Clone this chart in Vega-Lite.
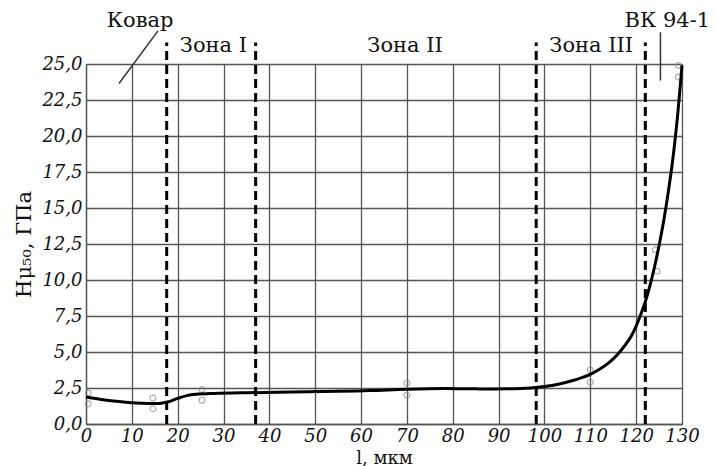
{
  "$schema": "https://vega.github.io/schema/vega-lite/v6.json",
  "width": 596,
  "height": 360,
  "autosize": {"type": "none"},
  "padding": {"left": 86, "top": 64, "right": 34, "bottom": 42},
  "background": "white",
  "config": {
    "view": {"stroke": null},
    "font": "DejaVu Serif"
  },
  "datasets": {
    "curve": [
      {"l": 0, "h": 1.87}, {"l": 3, "h": 1.72}, {"l": 6, "h": 1.6}, {"l": 10, "h": 1.48},
      {"l": 14, "h": 1.42}, {"l": 16, "h": 1.43}, {"l": 18, "h": 1.55}, {"l": 20, "h": 1.78},
      {"l": 22, "h": 1.97}, {"l": 24, "h": 2.06}, {"l": 28, "h": 2.12}, {"l": 35, "h": 2.17},
      {"l": 45, "h": 2.22}, {"l": 55, "h": 2.27}, {"l": 62, "h": 2.32}, {"l": 70, "h": 2.42},
      {"l": 78, "h": 2.47}, {"l": 85, "h": 2.44}, {"l": 92, "h": 2.44}, {"l": 97, "h": 2.5},
      {"l": 100, "h": 2.6}, {"l": 103, "h": 2.76}, {"l": 106, "h": 3.0}, {"l": 108, "h": 3.2},
      {"l": 110, "h": 3.45}, {"l": 112, "h": 3.8}, {"l": 114, "h": 4.25}, {"l": 116, "h": 4.85},
      {"l": 118, "h": 5.65}, {"l": 119, "h": 6.15}, {"l": 120, "h": 6.8}, {"l": 121, "h": 7.6},
      {"l": 122, "h": 8.5}, {"l": 123, "h": 9.6}, {"l": 124, "h": 10.9}, {"l": 125, "h": 12.4},
      {"l": 126, "h": 14.1}, {"l": 127, "h": 16.1}, {"l": 128, "h": 18.4}, {"l": 129, "h": 21.3},
      {"l": 130, "h": 24.9}
    ],
    "points": [
      {"l": 0.5, "h": 2.15}, {"l": 0.5, "h": 1.4},
      {"l": 14.6, "h": 1.8}, {"l": 14.6, "h": 1.05},
      {"l": 25.3, "h": 2.4}, {"l": 25.3, "h": 1.65},
      {"l": 70, "h": 2.85}, {"l": 70, "h": 2.0},
      {"l": 110, "h": 3.75}, {"l": 110, "h": 2.9},
      {"l": 124.2, "h": 12.1}, {"l": 124.6, "h": 10.6},
      {"l": 129.2, "h": 24.9}, {"l": 129.2, "h": 24.1}
    ],
    "zones": [
      {"l": 17.6, "h0": 0, "h1": 26.5}, {"l": 37.0, "h0": 0, "h1": 26.5},
      {"l": 98.2, "h0": 0, "h1": 26.5}, {"l": 122.0, "h0": 0, "h1": 26.5}
    ],
    "zoneLabels": [
      {"l": 27.8, "h": 25.8, "label": "Зона I"},
      {"l": 69.6, "h": 25.8, "label": "Зона II"},
      {"l": 110.2, "h": 25.8, "label": "Зона III"}
    ],
    "notes": [
      {"label": "Ковар", "l": 11.8, "h": 27.55, "x1": 15.7, "y1": 27.3, "x2": 7.2, "y2": 23.65},
      {"label": "ВК 94-1", "l": 126.8, "h": 27.55, "x1": 125.3, "y1": 27.2, "x2": 125.3, "y2": 23.85}
    ]
  },
  "encoding": {
    "x": {
      "field": "l", "type": "quantitative",
      "scale": {"domain": [0, 130], "nice": false, "zero": false},
      "axis": {
        "values": [0, 10, 20, 30, 40, 50, 60, 70, 80, 90, 100, 110, 120, 130],
        "grid": true, "gridColor": "#555", "gridWidth": 1.3, "gridOpacity": 1,
        "domainColor": "#555", "domainWidth": 1.3,
        "ticks": false, "labelPadding": 3,
        "labelFont": "DejaVu Serif", "labelFontStyle": "italic", "labelFontSize": 18, "labelColor": "#111",
        "labelFlush": false, "labelOverlap": false,
        "title": "l, мкм", "titleFont": "DejaVu Serif", "titleFontSize": 18, "titleFontWeight": "normal",
        "titleColor": "#111", "titleBaseline": "alphabetic", "titleY": 39
      }
    },
    "y": {
      "field": "h", "type": "quantitative",
      "scale": {"domain": [0, 25], "nice": false, "zero": false},
      "axis": {
        "values": [0, 2.5, 5, 7.5, 10, 12.5, 15, 17.5, 20, 22.5, 25],
        "labelExpr": "replace(format(datum.value, '.1f'), '.', ',')",
        "grid": true, "gridColor": "#555", "gridWidth": 1.3, "gridOpacity": 1,
        "domainColor": "#555", "domainWidth": 1.3,
        "ticks": false, "labelPadding": 4,
        "labelFont": "DejaVu Serif", "labelFontStyle": "italic", "labelFontSize": 18, "labelColor": "#111",
        "labelFlush": false, "labelOverlap": false,
        "title": "Hμ₅₀, ГПа", "titleFont": "DejaVu Serif", "titleFontSize": 21, "titleFontWeight": "normal",
        "titleColor": "#111", "titlePadding": 7
      }
    }
  },
  "layer": [
    {
      "data": {"name": "points"},
      "mark": {"type": "point", "shape": "circle", "size": 34, "stroke": "#8a8a8a", "strokeWidth": 1.2, "filled": false}
    },
    {
      "data": {"name": "curve"},
      "mark": {"type": "line", "color": "#000", "strokeWidth": 3, "interpolate": "catmull-rom", "clip": false}
    },
    {
      "data": {"name": "zones"},
      "mark": {"type": "rule", "color": "#000", "strokeWidth": 3, "strokeDash": [9, 5], "clip": false},
      "encoding": {
        "y": {"field": "h0", "type": "quantitative"},
        "y2": {"field": "h1"}
      }
    },
    {
      "data": {"name": "zoneLabels"},
      "mark": {"type": "text", "font": "DejaVu Serif", "fontSize": 21, "color": "#111", "align": "center", "baseline": "alphabetic", "clip": false},
      "encoding": {
        "text": {"field": "label"}
      }
    },
    {
      "data": {"name": "notes"},
      "mark": {"type": "rule", "color": "#333", "strokeWidth": 1.5, "clip": false},
      "encoding": {
        "x": {"field": "x1", "type": "quantitative"},
        "y": {"field": "y1", "type": "quantitative"},
        "x2": {"field": "x2"},
        "y2": {"field": "y2"}
      }
    },
    {
      "data": {"name": "notes"},
      "mark": {"type": "text", "font": "DejaVu Serif", "fontSize": 21, "color": "#111", "align": "center", "baseline": "alphabetic", "clip": false},
      "encoding": {
        "text": {"field": "label"}
      }
    }
  ]
}
